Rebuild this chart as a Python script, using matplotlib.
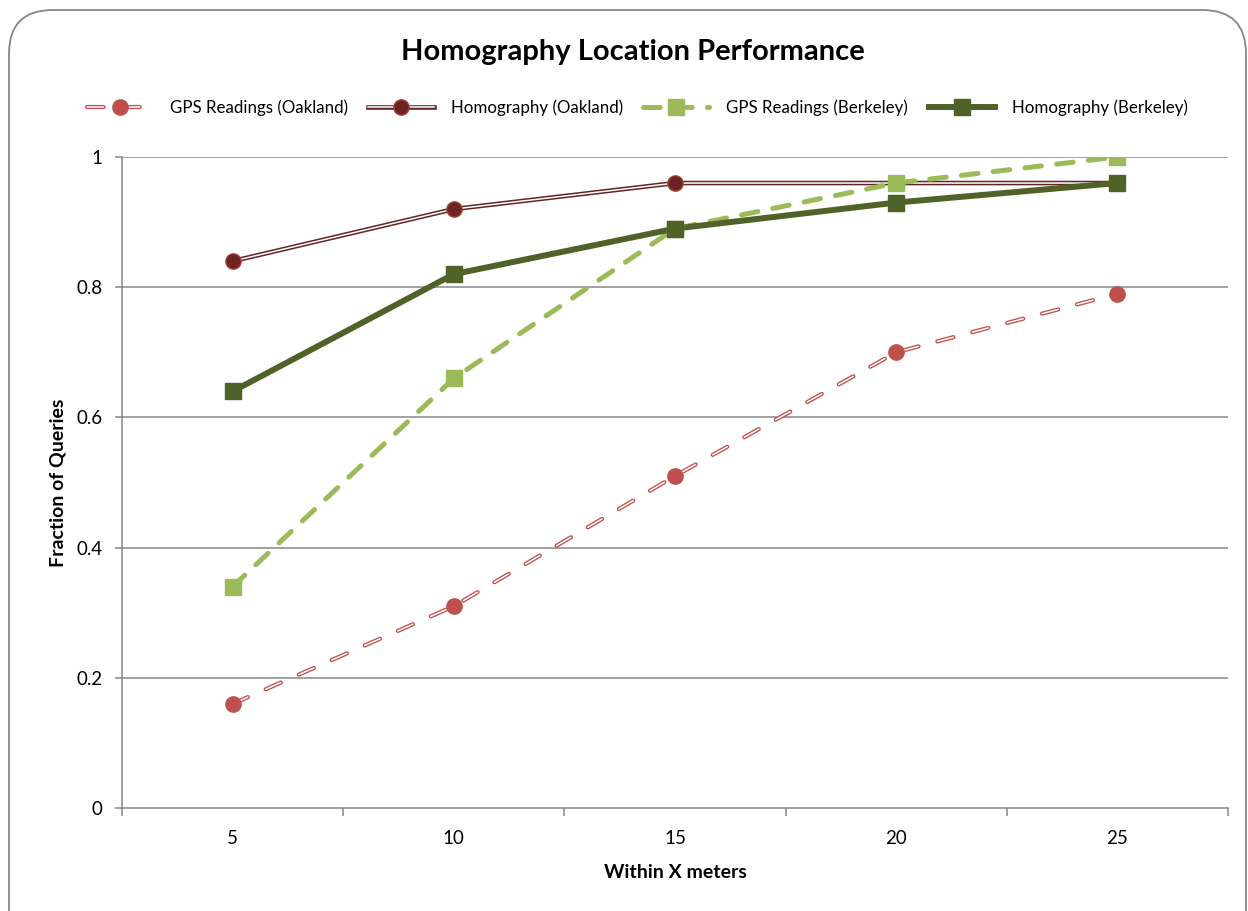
import matplotlib as mpl
mpl.use('Agg')
import matplotlib.pyplot as plt
from matplotlib.patches import FancyBboxPatch
from matplotlib.lines import Line2D
from matplotlib.legend_handler import HandlerTuple

plt.rcParams['font.family'] = ['Lato', 'DejaVu Sans']
plt.rcParams['lines.scale_dashes'] = False

meters = [5, 10, 15, 20, 25]
gps_oakland = [0.16, 0.31, 0.51, 0.70, 0.79]
homo_oakland = [0.84, 0.92, 0.96, 0.96, 0.96]
gps_berkeley = [0.34, 0.66, 0.89, 0.96, 1.0]
homo_berkeley = [0.64, 0.82, 0.89, 0.93, 0.96]

fig = plt.figure(figsize=(12.48, 9.11), dpi=100)
ax = fig.add_axes([122 / 1248, 1 - 808 / 911, (1228 - 122) / 1248, (808 - 157) / 911])

# rounded chart border
border = FancyBboxPatch((9 / 1248, -0.05), (1246 - 9) / 1248, 1.05 - 10 / 911,
                        boxstyle="round,pad=0,rounding_size=0.035",
                        transform=fig.transFigure, fill=False,
                        edgecolor='#868686', linewidth=1.3, zorder=0,
                        mutation_aspect=1248 / 911)
fig.patches.append(border)

grid_c = '#878787'
for y in [0.2, 0.4, 0.6, 0.8, 1.0]:
    ax.axhline(y, color=grid_c, linewidth=1.1, zorder=1)

dash_a = (0, (12, 14))
dash_b = (0, (12, 11))
ms_c = 11
ms_s = 11

# GPS Oakland: double line, dashed
ax.plot(meters, gps_oakland, color='#C0504D', lw=3.0, ls=dash_a,
        dash_capstyle='round', zorder=3)
ax.plot(meters, gps_oakland, color='white', lw=1.1, ls=dash_a,
        dash_capstyle='round', zorder=3)
ax.plot(meters, gps_oakland, ls='none', marker='o', ms=ms_c,
        color='#C0504D', zorder=6)

# Homography Oakland: double line, solid
ax.plot(meters, homo_oakland, color='#632523', lw=3.3, zorder=3)
ax.plot(meters, homo_oakland, color='white', lw=1.1, zorder=3)
ax.plot(meters, homo_oakland, ls='none', marker='o', ms=ms_c,
        markerfacecolor='#6B2422', markeredgecolor='#A0403D', mew=1.0, zorder=6)

# GPS Berkeley
ax.plot(meters, gps_berkeley, color='#9BBB59', lw=3.6, ls=dash_b,
        dash_capstyle='round', zorder=4)
ax.plot(meters, gps_berkeley, ls='none', marker='s', ms=ms_s,
        color='#9BBB59', zorder=6)

# Homography Berkeley
ax.plot(meters, homo_berkeley, color='#4F6228', lw=4.3, zorder=5)
ax.plot(meters, homo_berkeley, ls='none', marker='s', ms=ms_s,
        color='#4F6228', zorder=6)

ax.set_xlim(2.5, 27.5)
ax.set_ylim(0, 1.0)
ax.set_xticks([2.5, 7.5, 12.5, 17.5, 22.5, 27.5])
ax.set_xticklabels([])
ax.set_xticks(meters, minor=True)
ax.set_xticklabels([str(m) for m in meters], minor=True)
ax.tick_params(axis='x', which='major', direction='out', length=6,
               color=grid_c, width=1.1)
ax.tick_params(axis='x', which='minor', length=0, pad=16, labelsize=13.5)
ax.set_yticks([0, 0.2, 0.4, 0.6, 0.8, 1.0])
ax.set_yticklabels(['0', '0.2', '0.4', '0.6', '0.8', '1'])
ax.tick_params(axis='y', direction='out', length=5, color=grid_c, width=1.1,
               pad=9, labelsize=13.5)

for s in ['top', 'right']:
    ax.spines[s].set_visible(False)
for s in ['left', 'bottom']:
    ax.spines[s].set_color(grid_c)
    ax.spines[s].set_linewidth(1.1)

ax.set_xlabel('Within X meters', fontsize=14, fontweight='bold', labelpad=12)
ax.set_ylabel('Fraction of Queries', fontsize=14, fontweight='bold', labelpad=7)
fig.text(633 / 1248, 1 - 52 / 911, 'Homography Location Performance',
         ha='center', va='center', fontsize=21, fontweight='bold')

# legend handles
h1 = (Line2D([], [], color='#C0504D', lw=3.0, ls=dash_a, dash_capstyle='round'),
      Line2D([], [], color='white', lw=1.1, ls=dash_a, dash_capstyle='round'),
      Line2D([], [], ls='none', marker='o', ms=ms_c, color='#C0504D'))
h2 = (Line2D([], [], color='#632523', lw=3.3),
      Line2D([], [], color='white', lw=1.1),
      Line2D([], [], ls='none', marker='o', ms=ms_c,
             markerfacecolor='#6B2422', markeredgecolor='#A0403D'))
h3 = (Line2D([], [], color='#9BBB59', lw=3.6, ls=dash_b, dash_capstyle='round'),
      Line2D([], [], ls='none', marker='s', ms=ms_s, color='#9BBB59'))
h4 = (Line2D([], [], color='#4F6228', lw=4.3),
      Line2D([], [], ls='none', marker='s', ms=ms_s, color='#4F6228'))
fig.legend([h1, h2, h3, h4],
           ['GPS Readings (Oakland)', 'Homography (Oakland)',
            'GPS Readings (Berkeley)', 'Homography (Berkeley)'],
           handler_map={tuple: HandlerTuple(ndivide=1)},
           loc='center', bbox_to_anchor=(637 / 1248, 1 - 108 / 911),
           ncol=4, frameon=False, fontsize=12.2, handlelength=3.9,
           handletextpad=1.0, columnspacing=1.2)

fig.savefig('out.png', dpi=100)
